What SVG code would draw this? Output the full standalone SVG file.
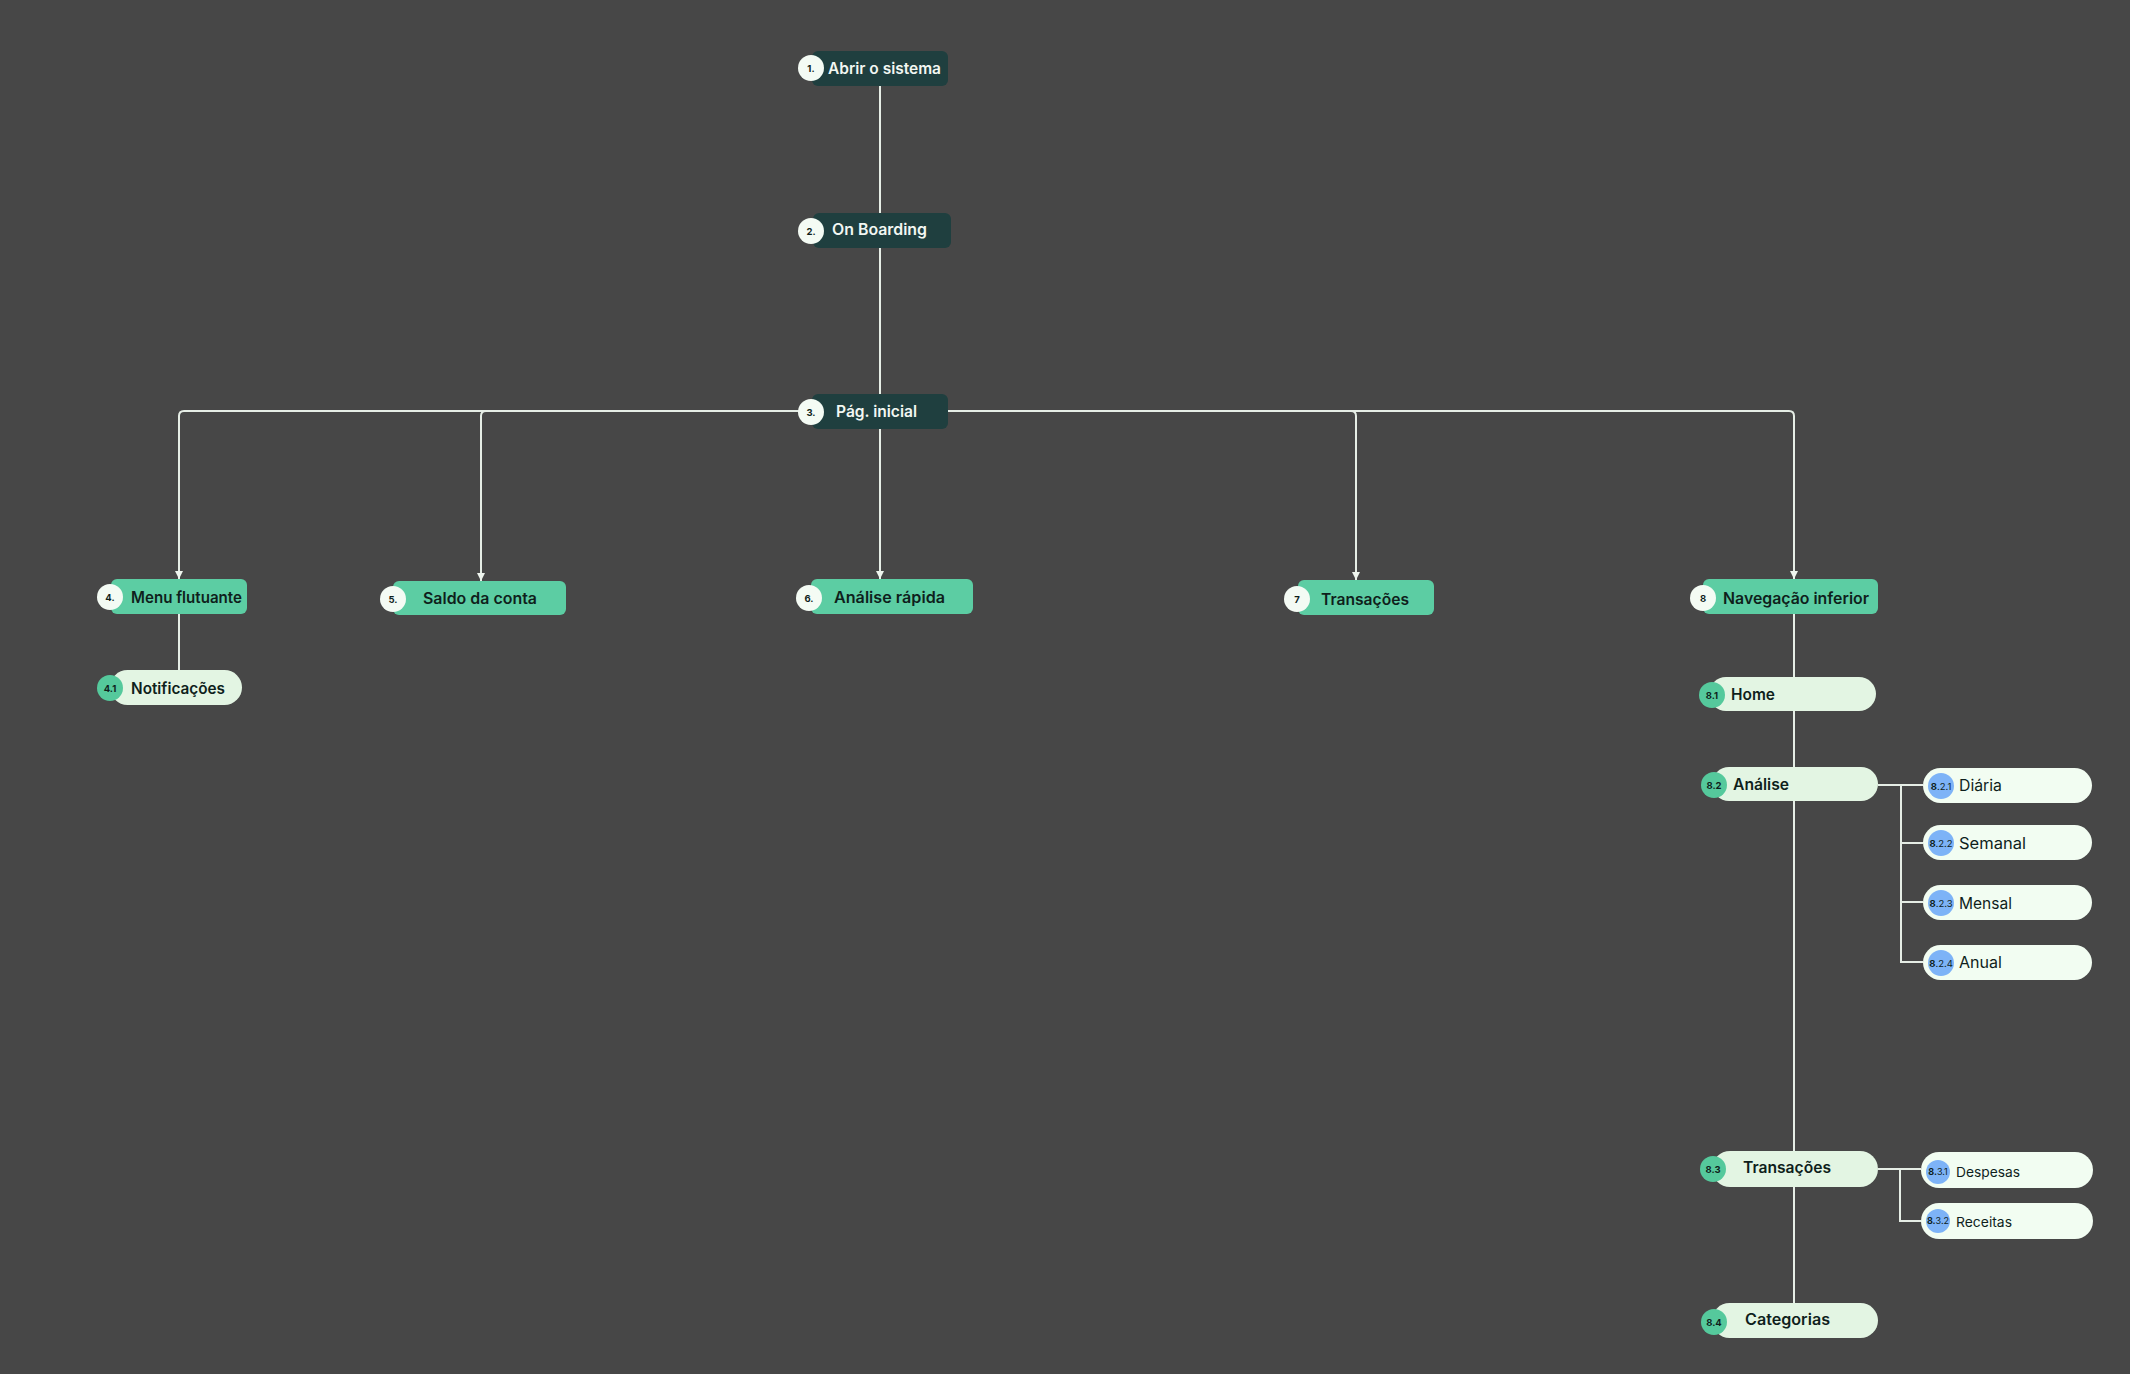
<svg xmlns="http://www.w3.org/2000/svg" width="2130" height="1374" viewBox="0 0 2130 1374">
<defs>
<marker id="arr" viewBox="0 0 10 10" refX="10" refY="5" markerWidth="8" markerHeight="8" markerUnits="userSpaceOnUse" orient="auto">
<path d="M0,0 L10,5 L0,10 z" fill="#eef5ee"/>
</marker>
<style>
.ln{fill:none;stroke:#e6eee6;stroke-width:2}
.dark{fill:#1f3f3f}
.green{fill:#5ccda3}
.pill{fill:#e3f5e3}
.pill2{fill:#f2fdf2}
.cw{fill:#f4fbf4}
.cg{fill:#55c99c}
.cb{fill:#7db3f7}
.t{font-family:Inter,"Noto Sans",sans-serif;font-weight:600;font-size:15.5px}
.tw{fill:#f2f7f2}
.tk{fill:#0f1f1c}
.tn{font-family:Inter,"Noto Sans",sans-serif;font-weight:400;font-size:15.5px;fill:#0f1f1c}
.ts{font-family:Inter,"Noto Sans",sans-serif;font-weight:400;font-size:13.5px;fill:#0f1f1c}
.n{font-family:Inter,"Noto Sans",sans-serif;font-weight:700;font-size:9.5px;fill:#0f1f1c;text-anchor:middle}
.nl{font-weight:400}
</style>
</defs>
<rect width="2130" height="1374" fill="#474747"/>
<g id="connectors">
<path class="ln" d="M880,86 V213"/>
<path class="ln" d="M880,248 V394"/>
<path class="ln" d="M880,429 V579" marker-end="url(#arr)"/>
<path class="ln" d="M812,411 H184 Q179,411 179,416 V579" marker-end="url(#arr)"/>
<path class="ln" d="M486,411 Q481,411 481,416 V581" marker-end="url(#arr)"/>
<path class="ln" d="M948,411 H1789 Q1794,411 1794,416 V579" marker-end="url(#arr)"/>
<path class="ln" d="M1351,411 Q1356,411 1356,416 V580" marker-end="url(#arr)"/>
<path class="ln" d="M179,614 V670"/>
<path class="ln" d="M1794,614 V1303"/>
<path class="ln" d="M1878,785 H1923"/>
<path class="ln" d="M1901,785 V962 H1923"/>
<path class="ln" d="M1901,843 H1923"/>
<path class="ln" d="M1901,902 H1923"/>
<path class="ln" d="M1878,1169 H1921"/>
<path class="ln" d="M1900,1169 V1221 H1921"/>
</g>
<g id="n1">
<rect class="dark" x="812" y="51" width="136" height="35" rx="6"/>
<circle class="cw" cx="811" cy="68" r="13"/>
<text class="n" x="811" y="71.5">1.</text>
<text class="t tw" x="828" y="74" textLength="113" lengthAdjust="spacingAndGlyphs">Abrir o sistema</text>
</g>
<g id="n2">
<rect class="dark" x="813" y="213" width="138" height="35" rx="6"/>
<circle class="cw" cx="811" cy="231" r="13"/>
<text class="n" x="811" y="234.5">2.</text>
<text class="t tw" x="832" y="235" textLength="95" lengthAdjust="spacingAndGlyphs">On Boarding</text>
</g>
<g id="n3">
<rect class="dark" x="812" y="394" width="136" height="35" rx="6"/>
<circle class="cw" cx="811" cy="412" r="13"/>
<text class="n" x="811" y="415.5">3.</text>
<text class="t tw" x="836" y="417" textLength="81" lengthAdjust="spacingAndGlyphs">Pág. inicial</text>
</g>
<g id="n4">
<rect class="green" x="111" y="579" width="136" height="35" rx="6"/>
<circle class="cw" cx="110" cy="597" r="13"/>
<text class="n" x="110" y="600.5">4.</text>
<text class="t tk" x="131" y="603" textLength="111" lengthAdjust="spacingAndGlyphs">Menu flutuante</text>
</g>
<g id="n4-1">
<rect class="pill" x="110" y="670" width="132" height="35" rx="17.5"/>
<circle class="cg" cx="110" cy="688" r="13"/>
<text class="n" x="110" y="691.5">4.1</text>
<text class="t tk" x="131" y="694" textLength="94" lengthAdjust="spacingAndGlyphs">Notificações</text>
</g>
<g id="n5">
<rect class="green" x="393" y="581" width="173" height="34" rx="6"/>
<circle class="cw" cx="393" cy="599" r="13"/>
<text class="n" x="393" y="602.5">5.</text>
<text class="t tk" x="423" y="604" textLength="114" lengthAdjust="spacingAndGlyphs">Saldo da conta</text>
</g>
<g id="n6">
<rect class="green" x="811" y="579" width="162" height="35" rx="6"/>
<circle class="cw" cx="809" cy="598" r="13"/>
<text class="n" x="809" y="601.5">6.</text>
<text class="t tk" x="834" y="603" textLength="111" lengthAdjust="spacingAndGlyphs">Análise rápida</text>
</g>
<g id="n7">
<rect class="green" x="1298" y="580" width="136" height="35" rx="6"/>
<circle class="cw" cx="1297" cy="599" r="13"/>
<text class="n" x="1297" y="602.5">7</text>
<text class="t tk" x="1321" y="605" textLength="88" lengthAdjust="spacingAndGlyphs">Transações</text>
</g>
<g id="n8">
<rect class="green" x="1703" y="579" width="175" height="35" rx="6"/>
<circle class="cw" cx="1703" cy="598" r="13"/>
<text class="n" x="1703" y="601.5">8</text>
<text class="t tk" x="1723" y="604" textLength="146" lengthAdjust="spacingAndGlyphs">Navegação inferior</text>
</g>
<g id="n8-1">
<rect class="pill" x="1709" y="677" width="167" height="34" rx="17"/>
<circle class="cg" cx="1712" cy="695" r="13"/>
<text class="n" x="1712" y="698.5">8.1</text>
<text class="t tk" x="1731" y="700" textLength="44" lengthAdjust="spacingAndGlyphs">Home</text>
</g>
<g id="n8-2">
<rect class="pill" x="1712" y="767" width="166" height="34" rx="17"/>
<circle class="cg" cx="1714" cy="785" r="13"/>
<text class="n" x="1714" y="788.5">8.2</text>
<text class="t tk" x="1733" y="790" textLength="56" lengthAdjust="spacingAndGlyphs">Análise</text>
</g>
<g id="n8-2-1">
<rect class="pill2" x="1923" y="768" width="169" height="35" rx="17.5"/>
<circle class="cb" cx="1941" cy="786" r="13"/>
<text class="n" x="1941" y="789.5">8<tspan class="nl">.2.1</tspan></text>
<text class="tn" x="1959" y="791" textLength="43" lengthAdjust="spacingAndGlyphs">Diária</text>
</g>
<g id="n8-2-2">
<rect class="pill2" x="1923" y="825" width="169" height="35" rx="17.5"/>
<circle class="cb" cx="1941" cy="843" r="13"/>
<text class="n" x="1941" y="846.5">8<tspan class="nl">.2.2</tspan></text>
<text class="tn" x="1959" y="849" textLength="67" lengthAdjust="spacingAndGlyphs">Semanal</text>
</g>
<g id="n8-2-3">
<rect class="pill2" x="1923" y="885" width="169" height="35" rx="17.5"/>
<circle class="cb" cx="1941" cy="903" r="13"/>
<text class="n" x="1941" y="906.5">8<tspan class="nl">.2.3</tspan></text>
<text class="tn" x="1959" y="909" textLength="53" lengthAdjust="spacingAndGlyphs">Mensal</text>
</g>
<g id="n8-2-4">
<rect class="pill2" x="1923" y="945" width="169" height="35" rx="17.5"/>
<circle class="cb" cx="1941" cy="963" r="13"/>
<text class="n" x="1941" y="966.5">8<tspan class="nl">.2.4</tspan></text>
<text class="tn" x="1959" y="968" textLength="43" lengthAdjust="spacingAndGlyphs">Anual</text>
</g>
<g id="n8-3">
<rect class="pill" x="1712" y="1151" width="166" height="36" rx="18"/>
<circle class="cg" cx="1713" cy="1169" r="13"/>
<text class="n" x="1713" y="1172.5">8.3</text>
<text class="t tk" x="1743" y="1173" textLength="88" lengthAdjust="spacingAndGlyphs">Transações</text>
</g>
<g id="n8-3-1">
<rect class="pill2" x="1921" y="1152" width="172" height="36" rx="18"/>
<circle class="cb" cx="1938" cy="1172" r="12"/>
<text class="n" x="1938" y="1175" style="font-size:9px">8.<tspan class="nl">3.1</tspan></text>
<text class="ts" x="1956" y="1177" textLength="64" lengthAdjust="spacingAndGlyphs">Despesas</text>
</g>
<g id="n8-3-2">
<rect class="pill2" x="1921" y="1203" width="172" height="36" rx="18"/>
<circle class="cb" cx="1938" cy="1221" r="12"/>
<text class="n" x="1938" y="1224" style="font-size:9px">8.<tspan class="nl">3.2</tspan></text>
<text class="ts" x="1956" y="1227" textLength="56" lengthAdjust="spacingAndGlyphs">Receitas</text>
</g>
<g id="n8-4">
<rect class="pill" x="1712" y="1303" width="166" height="35" rx="17.5"/>
<circle class="cg" cx="1714" cy="1322" r="13"/>
<text class="n" x="1714" y="1325.5">8.4</text>
<text class="t tk" x="1745" y="1325" textLength="85" lengthAdjust="spacingAndGlyphs">Categorias</text>
</g>
</svg>
